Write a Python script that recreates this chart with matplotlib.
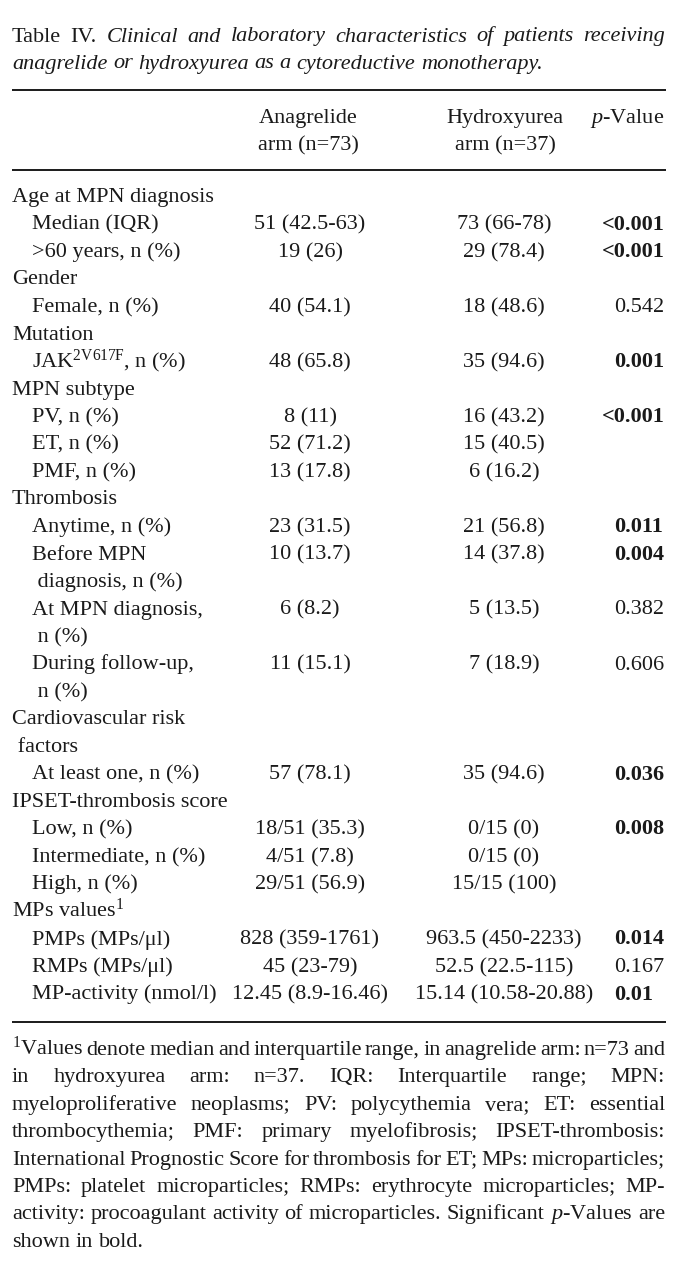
import matplotlib
matplotlib.use("Agg")
import matplotlib.pyplot as plt

plt.rcParams['font.family'] = 'Liberation Serif'
plt.rcParams['mathtext.fontset'] = 'custom'
plt.rcParams['mathtext.rm'] = 'Liberation Serif'
plt.rcParams['mathtext.it'] = 'Liberation Serif:italic'
plt.rcParams['mathtext.bf'] = 'Liberation Serif:bold'

# table content
title_1 = "Table IV. Clinical and laboratory characteristics of patients receiving"
title_2 = "anagrelide or hydroxyurea as a cytoreductive monotherapy."
col_heads = [["Anagrelide", "arm (n=73)"], ["Hydroxyurea", "arm (n=37)"]]
p_head = r"$\mathit{p}$-Value"

labels = ["Age at MPN diagnosis", "Median (IQR)", ">60 years, n (%)", "Gender",
          "Female, n (%)", "Mutation", r"JAK$^{\mathrm{2V617F}}$, n (%)", "MPN subtype",
          "PV, n (%)", "ET, n (%)", "PMF, n (%)", "Thrombosis", "Anytime, n (%)",
          "Before MPN\n diagnosis, n (%)", "At MPN diagnosis,\n n (%)",
          "During follow-up,\n n (%)", "Cardiovascular risk\n factors",
          "At least one, n (%)", "IPSET-thrombosis score", "Low, n (%)",
          "Intermediate, n (%)", "High, n (%)", r"MPs values$^{1}$",
          "PMPs (MPs/μl)", "RMPs (MPs/μl)", "MP-activity (nmol/l)"]
is_group = [1, 0, 0, 1, 0, 1, 0, 1, 0, 0, 0, 1, 0, 0, 0, 0, 1, 0, 1, 0, 0, 0, 1, 0, 0, 0]
anagrelide = ["", "51 (42.5-63)", "19 (26)", "", "40 (54.1)", "", "48 (65.8)", "",
              "8 (11)", "52 (71.2)", "13 (17.8)", "", "23 (31.5)", "10 (13.7)",
              "6 (8.2)", "11 (15.1)", "", "57 (78.1)", "", "18/51 (35.3)",
              "4/51 (7.8)", "29/51 (56.9)", "", "828 (359-1761)", "45 (23-79)",
              "12.45 (8.9-16.46)"]
hydroxyurea = ["", "73 (66-78)", "29 (78.4)", "", "18 (48.6)", "", "35 (94.6)", "",
               "16 (43.2)", "15 (40.5)", "6 (16.2)", "", "21 (56.8)", "14 (37.8)",
               "5 (13.5)", "7 (18.9)", "", "35 (94.6)", "", "0/15 (0)", "0/15 (0)",
               "15/15 (100)", "", "963.5 (450-2233)", "52.5 (22.5-115)",
               "15.14 (10.58-20.88)"]
p_values = ["", "<0.001", "<0.001", "", "0.542", "", "0.001", "", "<0.001", "", "",
            "", "0.011", "0.004", "0.382", "0.606", "", "0.036", "", "0.008", "", "",
            "", "0.014", "0.167", "0.01"]

footnote = [r"$^{1}$Values denote median and interquartile range, in anagrelide arm: n=73 and",
            "in hydroxyurea arm: n=37. IQR: Interquartile range; MPN:",
            "myeloproliferative neoplasms; PV: polycythemia vera; ET: essential",
            "thrombocythemia; PMF: primary myelofibrosis; IPSET-thrombosis:",
            "International Prognostic Score for thrombosis for ET; MPs: microparticles;",
            "PMPs: platelet microparticles; RMPs: erythrocyte microparticles; MP-",
            r"activity: procoagulant activity of microparticles. Significant $\mathit{p}$-Values are",
            "shown in bold."]

FS = 16
INK = '#1a1a1a'
X0, X1 = 12, 665

fig = plt.figure(figsize=(6.87, 12.8), dpi=100)
ax = fig.add_axes([0, 0, 1, 1])
ax.set_xlim(0, 687)
ax.set_ylim(1280, 0)
ax.axis('off')
renderer = fig.canvas.get_renderer()


def txt(x, y, s, **kw):
    return ax.text(x, y, s, fontsize=FS, color=INK, va='baseline', **kw)


def justify(tokens, y, last=False):
    objs = [txt(0, y, w, style=st) for w, st in tokens]
    ws = [o.get_window_extent(renderer).width for o in objs]
    if last or len(objs) == 1:
        gap = FS * 100 / 72 * 0.25
    else:
        gap = (X1 - X0 - sum(ws)) / (len(objs) - 1)
    x = X0
    for o, w in zip(objs, ws):
        o.set_x(x)
        x += w + gap


# title
words = title_1.split()
justify([(w, 'normal' if i < 2 else 'italic') for i, w in enumerate(words)], 41.5)
justify([(w, 'italic') for w in title_2.split()], 68.5, last=True)

# rules
for yr in [90, 170, 1021.5]:
    ax.plot([X0, X1 + 1], [yr, yr], color=INK, lw=1.4, solid_capstyle='butt')

# header
for cx, head in zip([308, 505], col_heads):
    txt(cx, 123, head[0], ha='center')
    txt(cx, 150, head[1], ha='center')
txt(664, 123, p_head, ha='right')

# body
x_dot = 625.5
line = 0
for lab, grp, a, h, p in zip(labels, is_group, anagrelide, hydroxyurea, p_values):
    y = 202 + 27.5 * line
    xl = 12 if grp else 32
    parts = lab.split('\n')
    for k, part in enumerate(parts):
        txt(xl, y + 27.5 * k, part)
    if a:
        txt(310, y, a, ha='center')
    if h:
        txt(504, y, h, ha='center')
    if p:
        val = float(p.lstrip('<'))
        wt = 'bold' if val < 0.05 else 'normal'
        tmp = txt(0, y, p[:p.index('.')], weight=wt)
        wpre = tmp.get_window_extent(renderer).width
        tmp.remove()
        txt(x_dot - wpre, y, p, weight=wt)
    line += len(parts)

# footnote
for i, fl in enumerate(footnote):
    toks = [(w, 'normal') for w in fl.replace(r"$\mathit{p}$-Values", "PVAL").split()]
    toks = [(r"$\mathit{p}$-Values" if w == "PVAL" else w, s) for w, s in toks]
    justify(toks, 1055 + 27.4 * i, last=(i == len(footnote) - 1))

fig.savefig("out.png", dpi=100, facecolor='white')
